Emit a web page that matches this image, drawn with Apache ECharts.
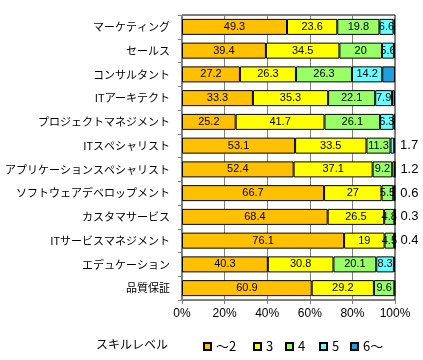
<!DOCTYPE html>
<html><head><meta charset="utf-8">
<script src="https://cdn.jsdelivr.net/npm/echarts@6/dist/echarts.min.js"></script>
<style>html,body{margin:0;padding:0;background:#fff}#c{width:423px;height:360px}</style>
</head><body><div id="c"></div>
<script>
const categories = ['マーケティング','セールス','コンサルタント','ITアーキテクト','プロジェクトマネジメント','ITスペシャリスト','アプリケーションスペシャリスト','ソフトウェアデベロップメント','カスタマサービス','ITサービスマネジメント','エデュケーション','品質保証'];
const seriesNames = ['～2','3','4','5','6～'];
const level2 = [49.3,39.4,27.2,33.3,25.2,53.1,52.4,66.7,68.4,76.1,40.3,60.9];
const level3 = [23.6,34.5,26.3,35.3,41.7,33.5,37.1,27,26.5,19,30.8,29.2];
const level4 = [19.8,20,26.3,22.1,26.1,11.3,9.2,5.5,4.8,4.5,20.1,9.6];
const level5 = [6.6,5.6,14.2,7.9,6.3,1.7,1.2,0.6,0.3,0.4,8.3,0.4];
const level6 = [0.7,0.5,6.0,1.4,0.7,0.4,0.1,0.2,0,0,0.5,0];
const outsideLabels = ['','','','','','1.7','1.2','0.6','0.3','0.4','','0.4'];
const xTicks = ['0%','20%','40%','60%','80%','100%'];
const colors = ['#FFC000','#FFFF00','#99FF66','#66FFFF','#1E9FE0'];
const data = [level2, level3, level4, level5, level6];
const labelFont = {fontFamily:'Liberation Sans', fontSize:11, color:'#000'};

const series = data.map((d, i) => ({
  name: seriesNames[i], type:'bar', stack:'t', data:d, barWidth:16,
  itemStyle:{color:colors[i], borderColor:'#000', borderWidth:1},
  label: i < 4 ? {show:true, position:'inside', ...labelFont,
    formatter: p => (p.value >= 3 ? String(p.value) : '')}
    : {show:true, position:'right', distance:5, ...labelFont, fontSize:13,
    formatter: p => outsideLabels[p.dataIndex]},
  emphasis:{disabled:true}, animation:false
}));

const legends = [198, 248, 280, 314, 345].map((x, i) => ({
  data:[seriesNames[i]], left:x, top:335, itemWidth:7, itemHeight:7, itemGap:4,
  icon:'rect', textStyle:{fontFamily:'Noto Sans CJK JP', fontSize:13, color:'#000'}
}));

const chart = echarts.init(document.getElementById('c'), null, {renderer:'canvas'});
chart.setOption({
  animation:false,
  title:{text:'スキルレベル', left:91, top:333, textStyle:{fontFamily:'Noto Sans CJK JP', fontSize:12, fontWeight:'normal', color:'#000'}},
  legend: legends,
  grid:{left:182, right:28, top:15, bottom:60, show:true, borderColor:'#000', borderWidth:1, containLabel:false},
  xAxis:{type:'value', min:0, max:100, interval:20,
    axisLine:{show:true, lineStyle:{color:'#808080'}},
    axisTick:{show:true, length:4, lineStyle:{color:'#808080'}},
    splitLine:{show:true, lineStyle:{color:'#808080'}},
    axisLabel:{fontFamily:'Liberation Sans', fontSize:12, color:'#000', margin:8,
      formatter: v => xTicks[v/20]}},
  yAxis:{type:'category', data:categories, inverse:true,
    axisLine:{show:true, lineStyle:{color:'#808080'}},
    axisTick:{show:true, length:4, lineStyle:{color:'#808080'}},
    axisLabel:{fontFamily:'Noto Sans CJK JP', fontSize:11, color:'#000', margin:12}},
  series: series
});
</script></body></html>
